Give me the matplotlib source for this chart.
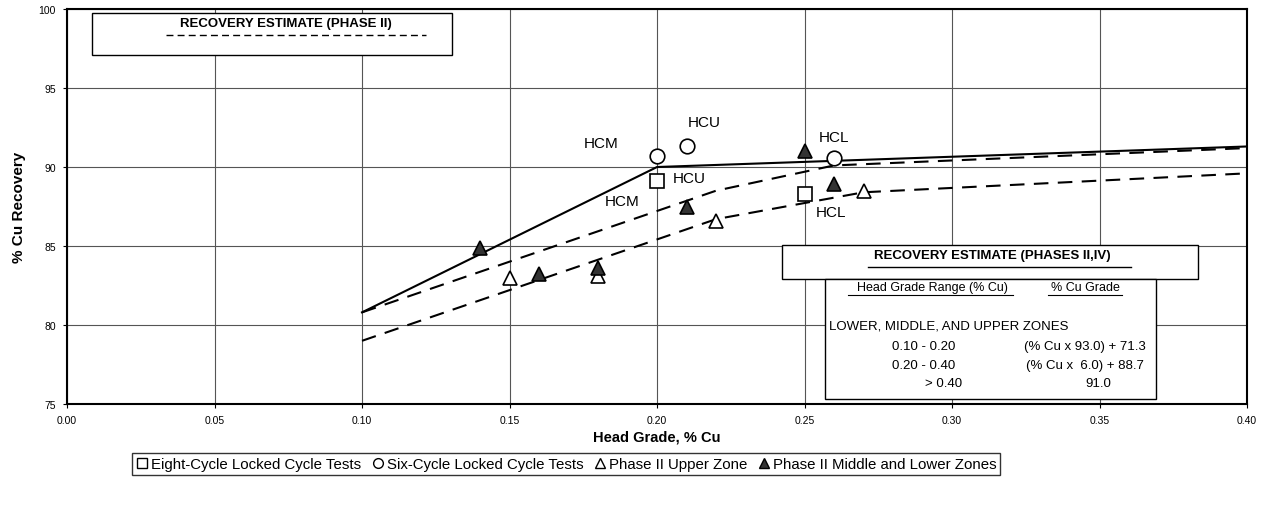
import numpy as np
import matplotlib
matplotlib.use("Agg")
import matplotlib.pyplot as plt
from matplotlib.patches import Rectangle
from matplotlib.lines import Line2D

plt.rcParams['font.family'] = ['Liberation Sans', 'DejaVu Sans']

# /=========================================================================
# data

# recovery estimate lines
solid_x = [0.10, 0.20, 0.40]
solid_y = [80.8, 90.0, 91.3]
upper_dash_x = [0.10, 0.22, 0.26, 0.40]
upper_dash_y = [80.8, 88.5, 90.1, 91.2]
lower_dash_x = [0.10, 0.22, 0.27, 0.40]
lower_dash_y = [79.0, 86.7, 88.4, 89.6]

# test points
eight_x = [0.20, 0.25]
eight_y = [89.1, 88.3]
six_x = [0.20, 0.21, 0.26]
six_y = [90.7, 91.3, 90.6]
upper_x = [0.15, 0.18, 0.22, 0.27]
upper_y = [83.0, 83.1, 86.6, 88.5]
midlow_x = [0.14, 0.16, 0.18, 0.21, 0.25, 0.26]
midlow_y = [84.9, 83.2, 83.6, 87.5, 91.0, 88.9]

# point labels
lab_text = ["HCM", "HCU", "HCL", "HCU", "HCM", "HCL"]
lab_x = [0.181, 0.216, 0.260, 0.211, 0.188, 0.259]
lab_y = [91.5, 92.85, 91.9, 89.3, 87.85, 87.15]

x_ticks = [0.00, 0.05, 0.10, 0.15, 0.20, 0.25, 0.30, 0.35, 0.40]
y_ticks = [75, 80, 85, 90, 95, 100]

table_ranges = ["0.10 - 0.20", "0.20 - 0.40", "> 0.40"]
table_grades = ["(% Cu x 93.0) + 71.3", "(% Cu x  6.0) + 88.7", "91.0"]

# =========================================================================/

fig = plt.figure(figsize=(12.64, 5.06), dpi=100)
ax = fig.add_axes([0.053, 0.1996, 0.9336, 0.7806])

ax.set_xlim(0, 0.40)
ax.set_ylim(75, 100)
ax.set_xticks(x_ticks)
ax.set_xticklabels(["{:.2f}".format(v) for v in x_ticks])
ax.set_yticks(y_ticks)
ax.tick_params(labelsize=7.5, length=3, width=0.8, pad=5)
ax.grid(True, color="#555555", lw=0.8, zorder=0)
ax.set_axisbelow(True)
for sp in ax.spines.values():
    sp.set_linewidth(1.5)

ax.set_xlabel("Head Grade, % Cu", fontsize=10.5, fontweight="bold", labelpad=3)
ax.set_ylabel("% Cu Recovery", fontsize=11, fontweight="bold", labelpad=9)

# lines
ax.plot(solid_x, solid_y, color="black", lw=1.5, zorder=2)
ax.plot(upper_dash_x, upper_dash_y, color="black", lw=1.5,
        dashes=(7, 4.5), zorder=2)
ax.plot(lower_dash_x, lower_dash_y, color="black", lw=1.5,
        dashes=(7, 4.5), zorder=2)

# markers
ms = 10.5
ax.plot(eight_x, eight_y, ls="none", marker="s", ms=ms, mfc="white",
        mec="black", mew=1.2, zorder=4)
ax.plot(six_x, six_y, ls="none", marker="o", ms=ms, mfc="white",
        mec="black", mew=1.2, zorder=4)
ax.plot(upper_x, upper_y, ls="none", marker="^", ms=ms, mfc="white",
        mec="black", mew=1.2, zorder=4)
ax.plot(midlow_x, midlow_y, ls="none", marker="^", ms=ms, mfc="#333333",
        mec="black", mew=1.2, zorder=5)

for t, x, y in zip(lab_text, lab_x, lab_y):
    ax.text(x, y, t, fontsize=11, ha="center", va="center", zorder=6)

# recovery estimate (phase II) box
ax.add_patch(Rectangle((0.0212, 0.8835), 0.305, 0.1063, transform=ax.transAxes,
                       facecolor="white", edgecolor="black", lw=1.0, zorder=3))
ax.text(0.1856, 0.965, "RECOVERY ESTIMATE (PHASE II)", transform=ax.transAxes,
        fontsize=9.5, fontweight="bold", ha="center", va="center", zorder=4)
ax.plot([0.084, 0.304], [0.934, 0.934], transform=ax.transAxes, color="black",
        lw=1.0, dashes=(5, 3), zorder=4)

# recovery estimate (phases II,IV) box
ax.add_patch(Rectangle((0.606, 0.3165), 0.3525, 0.0861, transform=ax.transAxes,
                       facecolor="white", edgecolor="black", lw=1.0, zorder=3))
ax.text(0.7839, 0.3772, "RECOVERY ESTIMATE (PHASES II,IV)", transform=ax.transAxes,
        fontsize=9.5, fontweight="bold", ha="center", va="center", zorder=4)
ax.plot([0.679, 0.902], [0.3468, 0.3468], transform=ax.transAxes,
        color="black", lw=1.0, zorder=4)

# table box
ax.add_patch(Rectangle((0.6424, 0.0127), 0.2805, 0.3038, transform=ax.transAxes,
                       facecolor="white", edgecolor="black", lw=1.0, zorder=3))
ax.text(0.7331, 0.2962, "Head Grade Range (% Cu)", transform=ax.transAxes,
        fontsize=9, ha="center", va="center", zorder=4)
ax.plot([0.662, 0.802], [0.275, 0.275], transform=ax.transAxes,
        color="black", lw=0.8, zorder=4)
ax.text(0.8627, 0.2962, "% Cu Grade", transform=ax.transAxes,
        fontsize=9, ha="center", va="center", zorder=4)
ax.plot([0.831, 0.894], [0.275, 0.275], transform=ax.transAxes,
        color="black", lw=0.8, zorder=4)
ax.text(0.6458, 0.1975, "LOWER, MIDDLE, AND UPPER ZONES", transform=ax.transAxes,
        fontsize=9.5, ha="left", va="center", zorder=4)
row_y = [0.1468, 0.0987, 0.0532]
range_x = [0.7263, 0.7263, 0.7424]
grade_x = [0.8627, 0.8627, 0.8737]
for i in range(3):
    ax.text(range_x[i], row_y[i], table_ranges[i], transform=ax.transAxes,
            fontsize=9.5, ha="center", va="center", zorder=4)
    ax.text(grade_x[i], row_y[i], table_grades[i], transform=ax.transAxes,
            fontsize=9.5, ha="center", va="center", zorder=4)

# legend
handles = [
    Line2D([], [], ls="none", marker="s", ms=7, mfc="white", mec="black"),
    Line2D([], [], ls="none", marker="o", ms=7, mfc="white", mec="black"),
    Line2D([], [], ls="none", marker="^", ms=7, mfc="white", mec="black"),
    Line2D([], [], ls="none", marker="^", ms=7, mfc="#333333", mec="black"),
]
labels = ["Eight-Cycle Locked Cycle Tests", "Six-Cycle Locked Cycle Tests",
          "Phase II Upper Zone", "Phase II Middle and Lower Zones"]
leg = fig.legend(handles, labels, loc="center", bbox_to_anchor=(0.448, 0.081),
                 ncol=4, fontsize=10.8, frameon=True, fancybox=False,
                 edgecolor="black", handlelength=0.8, handletextpad=0.2,
                 columnspacing=0.7, borderpad=0.25, borderaxespad=0)
leg.get_frame().set_linewidth(1.0)

fig.savefig("out.png", dpi=100)
